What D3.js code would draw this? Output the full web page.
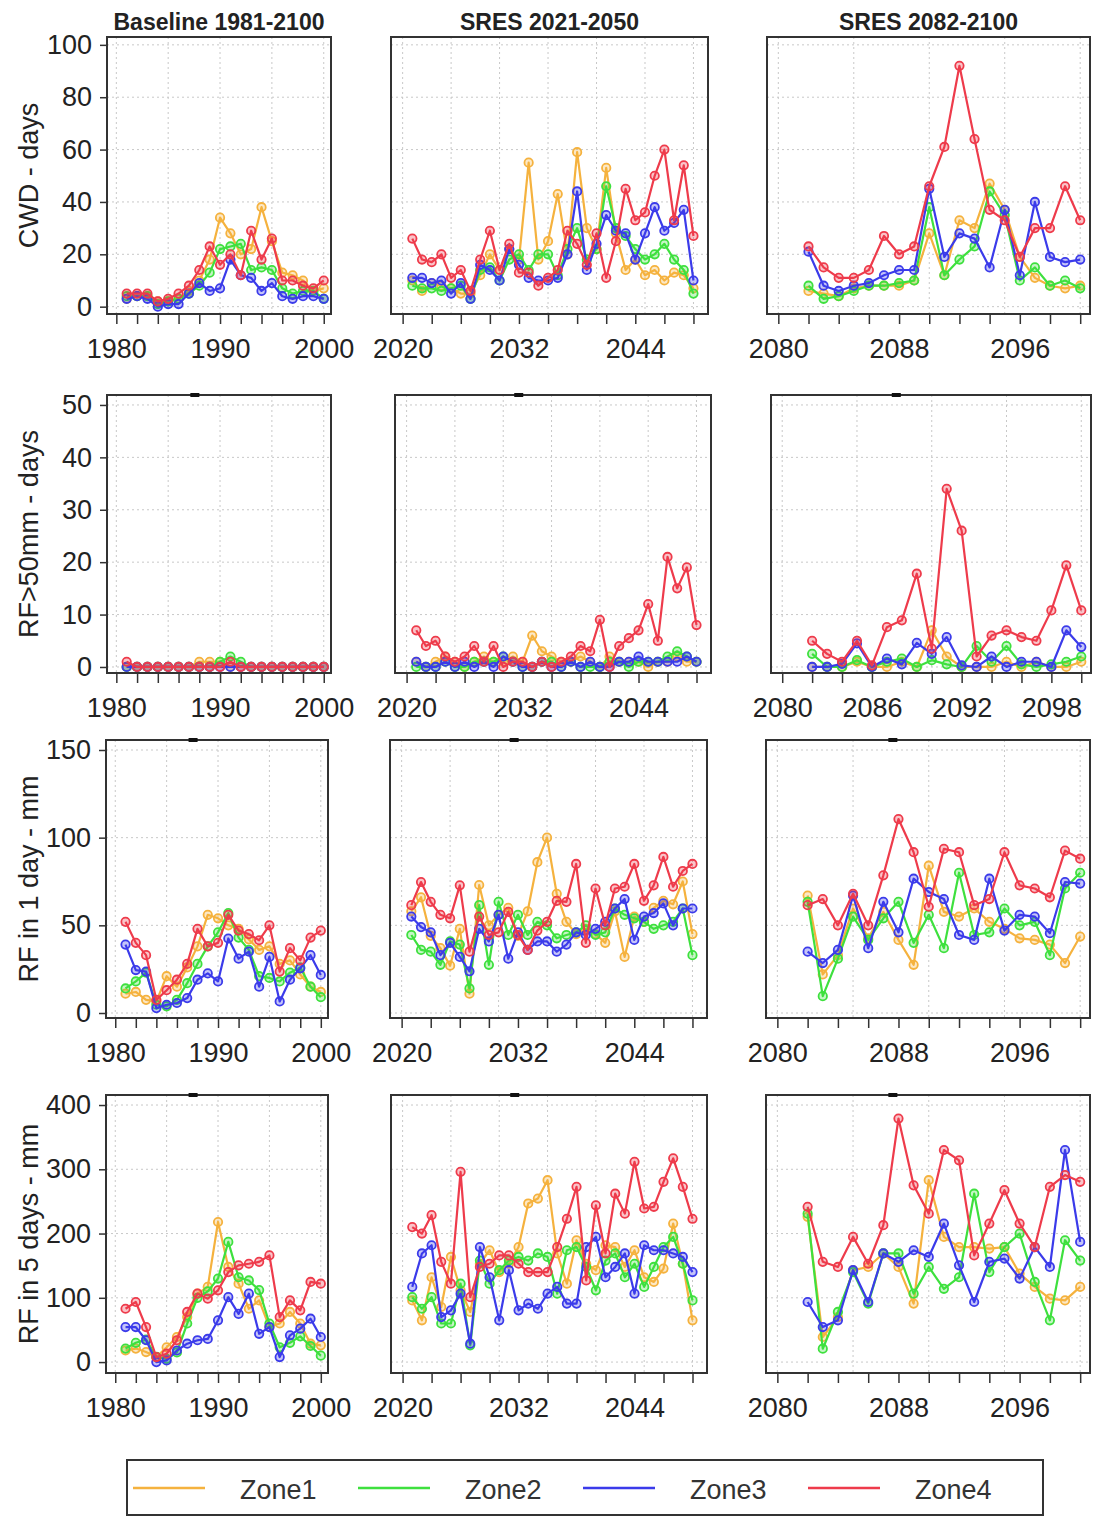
<!DOCTYPE html>
<html><head><meta charset="utf-8">
<script src="https://cdn.jsdelivr.net/npm/d3@7"></script>
<style>body{margin:0;background:#fff;} text{font-family:"Liberation Sans",Arial,sans-serif;}</style>
</head><body><script>
// ---------------- DATA ----------------
const yearsBase = [1981,1982,1983,1984,1985,1986,1987,1988,1989,1990,1991,1992,1993,1994,1995,1996,1997,1998,1999,2000];
const yearsMid = [2021,2022,2023,2024,2025,2026,2027,2028,2029,2030,2031,2032,2033,2034,2035,2036,2037,2038,2039,2040,2041,2042,2043,2044,2045,2046,2047,2048,2049,2050];
const yearsEnd = [2082,2083,2084,2085,2086,2087,2088,2089,2090,2091,2092,2093,2094,2095,2096,2097,2098,2099,2100];

const zoneNames = ["Zone1","Zone2","Zone3","Zone4"];
const periodTitles = ["Baseline 1981-2100","SRES 2021-2050","SRES 2082-2100"];
const indexLabels = ["CWD - days","RF>50mm - days","RF in 1 day - mm","RF in 5 days - mm"];

// CWD - days  [Zone1, Zone2, Zone3, Zone4]
const cwdBase = [
  [3,4,4,2,2,3,6,10,18,34,28,20,22,38,25,13,12,10,6,7],
  [4,4,4,1,2,3,5,8,13,22,23,24,14,15,14,7,5,6,6,3],
  [3,4,3,0,1,1,5,9,6,7,18,12,11,6,9,4,3,4,4,3],
  [5,5,5,2,3,5,8,14,23,16,20,12,29,18,26,10,10,8,7,10]];
const cwdMid = [
  [10,6,9,8,7,5,5,12,20,14,22,18,55,18,25,43,20,59,30,22,53,28,14,18,12,14,10,13,12,7],
  [8,7,7,6,7,8,3,14,15,10,18,20,14,20,20,12,22,30,18,22,46,30,27,22,18,20,24,18,14,5],
  [11,11,9,10,5,9,3,16,14,10,22,16,11,10,10,11,20,44,14,24,35,29,28,18,28,38,29,32,37,10],
  [26,18,17,20,11,14,6,18,29,14,24,13,13,8,11,14,29,24,16,28,11,25,45,33,36,50,60,33,54,27]];
const cwdEnd = [
  [6,5,4,7,8,8,8,10,28,12,33,30,47,37,19,11,8,7,8],
  [8,3,4,6,8,8,9,10,38,12,18,23,44,35,10,15,8,10,7],
  [21,8,6,8,9,12,14,14,45,19,28,26,15,37,12,40,19,17,18],
  [23,15,11,11,14,27,20,23,46,61,92,64,37,33,19,30,30,46,33]];

// RF>50mm - days
const rf50Base = [
  [0,0,0,0,0,0,0,1,1,1,0,0,0,0,0,0,0,0,0,0],
  [0,0,0,0,0,0,0,0,0,1,2,1,0,0,0,0,0,0,0,0],
  [0,0,0,0,0,0,0,0,0,0,0,0,0,0,0,0,0,0,0,0],
  [1,0,0,0,0,0,0,0,0,0,1,0,0,0,0,0,0,0,0,0]];
const rf50Mid = [
  [1,0,1,2,1,0,1,2,1,1,2,1,6,3,2,1,1,2,1,0,2,1,1,1,0,1,1,2,1,1],
  [0,0,0,1,0,0,1,1,1,2,1,0,0,1,1,0,1,0,0,0,1,1,0,1,1,1,2,3,2,1],
  [1,0,0,1,0,1,0,1,0,2,1,0,0,1,0,0,1,0,1,0,0,1,1,2,1,1,1,1,2,1],
  [7,4,5,2,1,2,4,1,4,0,1,1,0,1,0,1,2,4,3,9,0,4,5.5,7,12,5,21,15,19,8]];
const rf50End = [
  [0,0,0,1,0,0,1,0,7,2,0,0,0,1,0,1,0,0,1],
  [2.5,0,0,1.3,0,1,1.6,0,1.3,0.5,0,4,1,4,0.5,0,0.5,1,2],
  [0,0,0.6,4.5,0,1.6,0.5,4.6,2.5,5.7,0.3,0,2,0,1,1,0,7,3.8],
  [5,2.5,1,5,0.3,7.6,8.9,17.8,3.5,34,26,2,6,7,5.7,5,10.8,19.4,10.8]];

// RF in 1 day - mm
const rf1Base = [
  [11,12,7.5,6.6,21,15,26,38,56,54,50,48,42,36,38,28,30,22,15,12],
  [14,18,23,4.7,3.8,7.5,17,28,38,46,57,43,36,21,20,18,23,26,15,9],
  [39,24.5,23.6,2.8,4.7,5.7,8.5,19,22.6,18,42.5,31,35,15,32,6.6,19,25.5,33,21.7],
  [52,40,33,7.5,13,19,28,48,38,40,56,47,45,41.5,50,23.6,37,30,43,47]];
const rf1Mid = [
  [58,66,44,37,27,48,11,73,50,56,60,44,58,86,100,68,52,45,48,45,40,58,32,55,52,60,64,62,75,45],
  [44.5,36,35,27.5,40.8,39,14,61.5,27.5,63.4,44.5,56,44.5,52,50,42.6,44.5,46,50,44.5,46,59.6,56,54,52,48,50,52,59.6,33],
  [55,49,46,33,40,32,23.8,48,40.8,56,31,46,36,40.8,40.8,35,39,46,44.5,48,52,59.6,65,41.7,55,57,62.5,50,59.6,59.6],
  [61.5,74.7,63.4,56,54,72.8,35,55,44.5,46,57.7,44.5,36,47,52,64,63.4,85,40,71,50,71,72,85,64,72.8,89,72,81,85]];
const rf1End = [
  [67,22,33,59.6,42.6,57.7,41.7,27.5,84,57.7,55,59.6,52,48,42.6,41.7,39,28.5,43.6],
  [63.4,9.6,31,55,41.7,54,63.4,40,56,37,80,44.5,46,59.6,50,52,33,71,80],
  [35,28.5,36,67,37,63.4,46,76.6,69,65,44.5,41.7,76.6,47,56,55,45.5,74.7,73.8],
  [61.5,65,50,68,50,78.5,110.6,91.7,60.6,93.6,91.7,61.5,65,91.7,72.8,71,66,92.6,88]];

// RF in 5 days - mm
const rf5Base = [
  [18,21,15.6,7.8,23,39,70,106.5,117,218,148,122,83,96,54.5,60,78,60,28.6,26],
  [21,30,35,8,5,15,60,100,110,130,187,132,127,112,60,23,30,40,25,10],
  [54.5,54.5,34,0,2.6,18,28.6,34,36,65,101,75,106.5,44,54.5,7.8,41.6,52,67.5,39],
  [83,93.5,54.5,7.8,13,34,78,106.5,98.7,111.7,140,150.6,153,156,166,70,96,80.5,124.7,122]];
const rf5Mid = [
  [96,65,132,85.7,163.6,111.7,78,153,174,140,153,179,246.8,254.5,283,169,122,189.6,153,143,181.8,179,148,174,132,124.7,145.5,215.6,153,65],
  [101,83,101,60,60,122,26,158,122,143,158,163.6,158,169,163.6,106.5,174,179,148,111.7,158,169,132,153,117,148,179,194.8,153,96],
  [117,169,181.8,70,80.5,106.5,28.6,179,132,65,143,80.5,91,83,106.5,117,91,91,179,194.8,132,148,169,106.5,181.8,174,174,169,163.6,140],
  [210,200,228.6,156,122,296,101,148,153,166,166,153,140,140,140,179,223,272.7,127,244,169,262,231,311.7,239,241.6,280.5,317,272.7,223]];
const rf5End = [
  [226,39,70,143,148,169,148,91,283,194.8,179,179,176.6,179,137.7,117,98.7,96,117],
  [231,20.8,78,140,91,169,169,106.5,148,114,132,262,140,179,200,124.7,65,189.6,158],
  [93.5,54.5,65,143,93.5,169,156,174,163.6,215.6,150.6,93.5,156,161,130,179,148,330,187],
  [241.6,156,148,194.8,153,213,379,275,231,330,314,166,215.6,267.5,215.6,179,272.7,291,280.5]];

// tick values / labels
const yTicksCwd = [0,20,40,60,80,100];
const yTicksRf50 = [0,10,20,30,40,50];
const yTicksRf1 = [0,50,100,150];
const yTicksRf5 = [0,100,200,300,400];
const xTicksBase = [1980,1982,1984,1986,1988,1990,1992,1994,1996,1998,2000];
const xTicksMid = [2020,2023,2026,2029,2032,2035,2038,2041,2044,2047,2050];
const xTicksEnd = [2080,2082,2084,2086,2088,2090,2092,2094,2096,2098,2100];
const xLabelsBase = [1980,1990,2000];
const xLabelsMid = [2020,2032,2044];
const xLabelsEnd = [2080,2088,2096];
const xLabelsEndRf50 = [2080,2086,2092,2098];
const xGridBase = [1980,1985,1990,1995,2000];
const xGridMid = [2020,2025,2030,2035,2040,2045,2050];
const xGridEnd = [2080,2085,2090,2095,2100];

// ---------------- LAYOUT ----------------
const W = 1094, H = 1522;
const zoneColors = ["#F5B23E","#3EE03E","#3B3BEA","#EE3B4B"];
const frameCol = "#333";
const fontTick = 27;

const colDefs = [
  {years: yearsBase, domain:[1979.1,2000.7], ticks:xTicksBase, labels:xLabelsBase, grid:xGridBase},
  {years: yearsMid,  domain:[2018.8,2051.5], ticks:xTicksMid,  labels:xLabelsMid,  grid:xGridMid},
  {years: yearsEnd,  domain:[2079.25,2100.65], ticks:xTicksEnd, labels:xLabelsEnd, grid:xGridEnd}
];
const rowDefs = [
  {data:[cwdBase,cwdMid,cwdEnd], yDomain:[-2.8,103], yTicks:yTicksCwd, y0:37, y1:314,
   xb:[[107,331],[391,708],[767,1090]]},
  {data:[rf50Base,rf50Mid,rf50End], yDomain:[-1.15,51.9], yTicks:yTicksRf50, y0:395, y1:673,
   xb:[[107,331],[395,711],[771,1091]], endLabels:xLabelsEndRf50},
  {data:[rf1Base,rf1Mid,rf1End], yDomain:[-2.85,155.7], yTicks:yTicksRf1, y0:740, y1:1018,
   xb:[[106,328],[390,707],[766,1090]]},
  {data:[rf5Base,rf5Mid,rf5End], yDomain:[-17,415.6], yTicks:yTicksRf5, y0:1095, y1:1373,
   xb:[[106,328],[391,707],[766,1090]]}
];

const svg = d3.select("body").append("svg").attr("width",W).attr("height",H)
  .style("background","#fff");

rowDefs.forEach((row, ri) => {
  colDefs.forEach((col, ci) => {
    const [x0,x1] = row.xb[ci];
    const x = d3.scaleLinear().domain(col.domain).range([x0,x1]);
    const y = d3.scaleLinear().domain(row.yDomain).range([row.y1,row.y0]);
    const g = svg.append("g");

    // grid
    g.append("g").selectAll("line").data(row.yTicks).join("line")
      .attr("x1",x0).attr("x2",x1).attr("y1",d=>y(d)).attr("y2",d=>y(d))
      .attr("stroke","#c8c8c8").attr("stroke-width",1).attr("stroke-dasharray","2,3");
    g.append("g").selectAll("line").data(col.grid).join("line")
      .attr("x1",d=>x(d)).attr("x2",d=>x(d)).attr("y1",row.y0).attr("y2",row.y1)
      .attr("stroke","#c8c8c8").attr("stroke-width",1).attr("stroke-dasharray","2,3");

    // series
    const series = row.data[ci];
    const line = d3.line().x((d,i)=>x(col.years[i])).y(d=>y(d));
    series.forEach((vals, zi) => {
      g.append("path").datum(vals).attr("d",line)
        .attr("fill","none").attr("stroke",zoneColors[zi]).attr("stroke-width",2.2)
        .attr("stroke-linejoin","round");
      g.append("g").selectAll("circle").data(vals).join("circle")
        .attr("cx",(d,i)=>x(col.years[i])).attr("cy",d=>y(d)).attr("r",4.2)
        .attr("fill",zoneColors[zi]).attr("fill-opacity",0.3)
        .attr("stroke",zoneColors[zi]).attr("stroke-width",1.8);
    });

    // frame
    g.append("rect").attr("x",x0).attr("y",row.y0).attr("width",x1-x0).attr("height",row.y1-row.y0)
      .attr("fill","none").attr("stroke",frameCol).attr("stroke-width",2);
    if (ri > 0) {
      g.append("rect").attr("x",x0+0.39*(x1-x0)-4).attr("y",row.y0-2).attr("width",9).attr("height",4)
        .attr("fill","#111");
    }

    // x axis
    const labels = (ci===2 && row.endLabels) ? row.endLabels : col.labels;
    const xa = d3.axisBottom(x).tickValues(col.ticks).tickSize(10).tickPadding(15)
      .tickFormat(d => labels.includes(d) ? String(d) : "");
    const xg = g.append("g").attr("transform",`translate(0,${row.y1})`).call(xa);
    xg.select(".domain").remove();
    xg.selectAll("line").attr("stroke",frameCol).attr("stroke-width",1.5);
    xg.selectAll("text").attr("font-size",fontTick).attr("fill","#222")
      .style("font-family","'Liberation Sans',Arial,sans-serif");

    // y axis
    if (ci === 0) {
      const ya = d3.axisLeft(y).tickValues(row.yTicks).tickSize(7).tickPadding(8);
      const yg = g.append("g").attr("transform",`translate(${x0},0)`).call(ya);
      yg.select(".domain").remove();
      yg.selectAll("line").attr("stroke",frameCol).attr("stroke-width",1.5);
      yg.selectAll("text").attr("font-size",fontTick).attr("fill","#222")
        .style("font-family","'Liberation Sans',Arial,sans-serif");
      svg.append("text").attr("transform",`translate(38,${(row.y0+row.y1)/2}) rotate(-90)`)
        .attr("text-anchor","middle").attr("font-size",27).attr("fill","#222")
        .text(indexLabels[ri]);
    }
    if (ri === 0) {
      svg.append("text").attr("x",(x0+x1)/2).attr("y",30).attr("text-anchor","middle")
        .attr("font-size",23).attr("font-weight","bold").attr("fill","#222")
        .text(periodTitles[ci]);
    }
  });
});

// legend
const lg = svg.append("g");
lg.append("rect").attr("x",127).attr("y",1460).attr("width",916).attr("height",55)
  .attr("fill","#fff").attr("stroke",frameCol).attr("stroke-width",2);
zoneNames.forEach((z,i)=>{
  const ox = 133 + i*225;
  lg.append("line").attr("x1",ox).attr("x2",ox+72).attr("y1",1488).attr("y2",1488)
    .attr("stroke",zoneColors[i]).attr("stroke-width",2.5);
  lg.append("text").attr("x",ox+107).attr("y",1499).attr("font-size",27).attr("fill","#333").text(z);
});
</script></body></html>
